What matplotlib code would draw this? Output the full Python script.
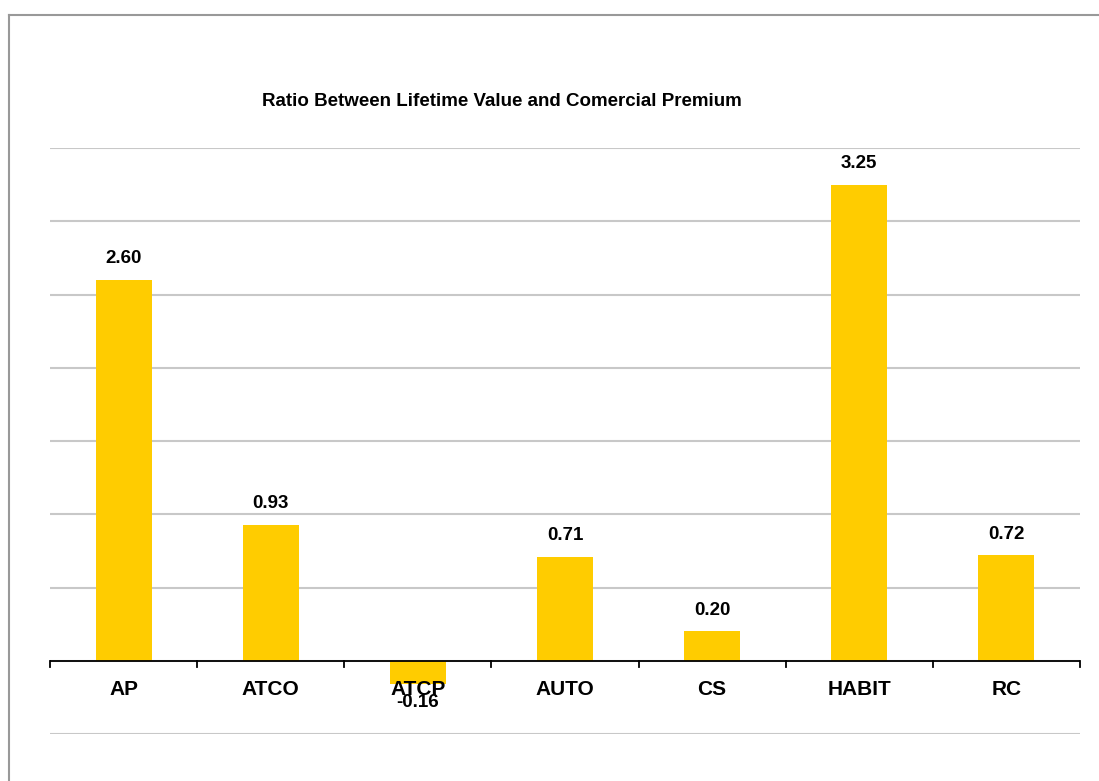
import matplotlib.pyplot as plt
from matplotlib.lines import Line2D

plt.rcParams['font.family'] = ['Liberation Sans', 'DejaVu Sans']

# Lifetime value / commercial premium by line of business
products = ['AP', 'ATCO', 'ATCP', 'AUTO', 'CS', 'HABIT', 'RC']
ratios = [2.60, 0.93, -0.16, 0.71, 0.20, 3.25, 0.72]

W, H = 1099, 781
fig = plt.figure(figsize=(W / 100, H / 100), dpi=100)
ax = fig.add_axes([50 / W, 1 - 734 / H, 1030 / W, 586 / H])

x = list(range(len(products)))
ax.bar(x, ratios, width=0.38, color='#FFCC00', zorder=1)

ax.set_xlim(-0.5, len(products) - 0.5)
ax.set_ylim(-0.5, 3.5)

# horizontal grid every 0.5, no y labels
ax.set_yticks([-0.5 + 0.5 * i for i in range(9)])
ax.yaxis.grid(True, color='#c8c8c8', linewidth=1.5)
ax.set_axisbelow(True)
ax.tick_params(axis='y', length=0, labelleft=False)
ax.set_xticks([])

for s in ['top', 'right', 'left', 'bottom']:
    ax.spines[s].set_visible(False)
ax.axhline(0, color='black', linewidth=1.3, zorder=2)

# tick marks on the category boundaries, hanging below the zero line
for b in [i - 0.5 for i in range(len(products) + 1)]:
    ax.plot([b, b], [0, -0.04], color='black', linewidth=1.3, clip_on=False, zorder=2)

# category names sit just under the zero line, over any negative bar
for xi, name in zip(x, products):
    ax.annotate(name, (xi, 0), xytext=(0, -20.5), textcoords='offset points',
                ha='center', va='center', fontsize=15, fontweight='bold', zorder=4)

# value labels
for xi, v in zip(x, ratios):
    off = 9 if v >= 0 else -7
    ax.annotate(f'{v:.2f}', (xi, v), xytext=(0, off), textcoords='offset points',
                ha='center', va='bottom' if v >= 0 else 'top',
                fontsize=13.5, fontweight='bold', zorder=3)

fig.text(502 / W, 1 - 102 / H, 'Ratio Between Lifetime Value and Comercial Premium',
         ha='center', va='center', fontsize=13.5, fontweight='bold')

# outer frame (left and top edges visible)
fig.add_artist(Line2D([9 / W, 9 / W], [0, 1 - 15 / H], transform=fig.transFigure,
                      color='#999999', linewidth=1.5))
fig.add_artist(Line2D([9 / W, 1], [1 - 15 / H, 1 - 15 / H], transform=fig.transFigure,
                      color='#999999', linewidth=1.5))

fig.savefig('out.png', dpi=100)
